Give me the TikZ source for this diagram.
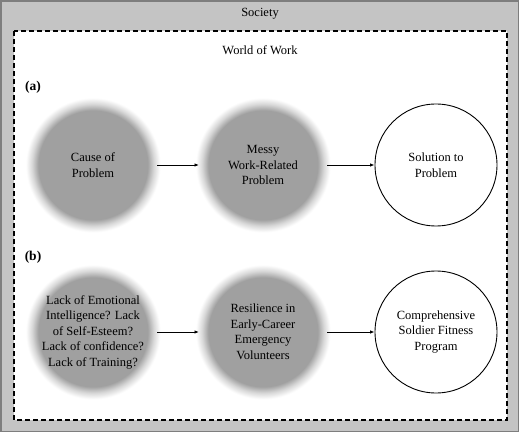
\documentclass[tikz,border=0pt]{standalone}
\usepackage{fontspec}
\setmainfont{Liberation Serif}
\usepackage{xcolor}
\usepackage{tikz}
\usetikzlibrary{positioning,arrows.meta}

\definecolor{societygray}{HTML}{C4C4C4}
\definecolor{frameedge}{HTML}{7E7E7E}
\definecolor{discgray}{HTML}{A0A0A0}
\definecolor{discedge}{HTML}{D8D8D8}
\pgfdeclareradialshading{blurdisc}{\pgfpoint{0bp}{0bp}}{color(0bp)=(discgray); color(19.5bp)=(discgray); color(21.8bp)=(discedge); color(24bp)=(white); color(50bp)=(white)}

\begin{document}
\begin{tikzpicture}[
    x=1pt, y=-1pt,
    node distance=170pt, on grid,
    caption/.style={font=\fontsize{12.5}{15.5}\selectfont},
    issue/.style={circle, shading=blurdisc, minimum size=140pt, align=center, outer sep=-6pt, font=\fontsize{12.5}{15.5}\selectfont},
    remedy/.style={circle, draw, line width=0.9pt, fill=white, minimum size=122pt, align=center, font=\fontsize{12.5}{15.5}\selectfont},
    flow/.style={-{Latex[length=4.5pt,width=3.5pt]}, line width=0.9pt}
]
\useasboundingbox (0,0) rectangle (520,433);

% society and world of work frames
\draw[frameedge, line width=1.5pt, fill=societygray] (1,1) rectangle (518.5,431.5);
\draw[dash pattern=on 5pt off 3pt, line width=1.2pt, fill=white] (14,31) rectangle (507,420);
\node[caption] (society) at (260,14) {Society};
\node[caption] (world) at (260,50) {World of Work};

% row (a)
\node[caption, font=\fontsize{13.5}{15}\selectfont\bfseries] (parta) at (33,87) {(a)};
\node[issue] (cause) at (93,165) {Cause of\\Problem};
\node[issue, right=of cause] (messy) {Messy\\Work-Related\\Problem};
\node[remedy, right=173pt of messy] (solution) {Solution to\\Problem};

% row (b)
\node[caption, font=\fontsize{13.5}{15}\selectfont\bfseries] (partb) at (33,257) {(b)};
\node[issue, below=167pt of cause] (lack) {Lack of Emotional\\Intelligence? Lack\\of Self-Esteem?\\Lack of confidence?\\Lack of Training?};
\node[issue, right=of lack] (resilience) {Resilience in\\Early-Career\\Emergency\\Volunteers};
\node[remedy, right=173pt of resilience] (csf) {Comprehensive\\Soldier Fitness\\Program};

\draw[flow] (cause) -- (messy);
\draw[flow] (messy) -- (solution);
\draw[flow] (lack) -- (resilience);
\draw[flow] (resilience) -- (csf);

\end{tikzpicture}
\end{document}
